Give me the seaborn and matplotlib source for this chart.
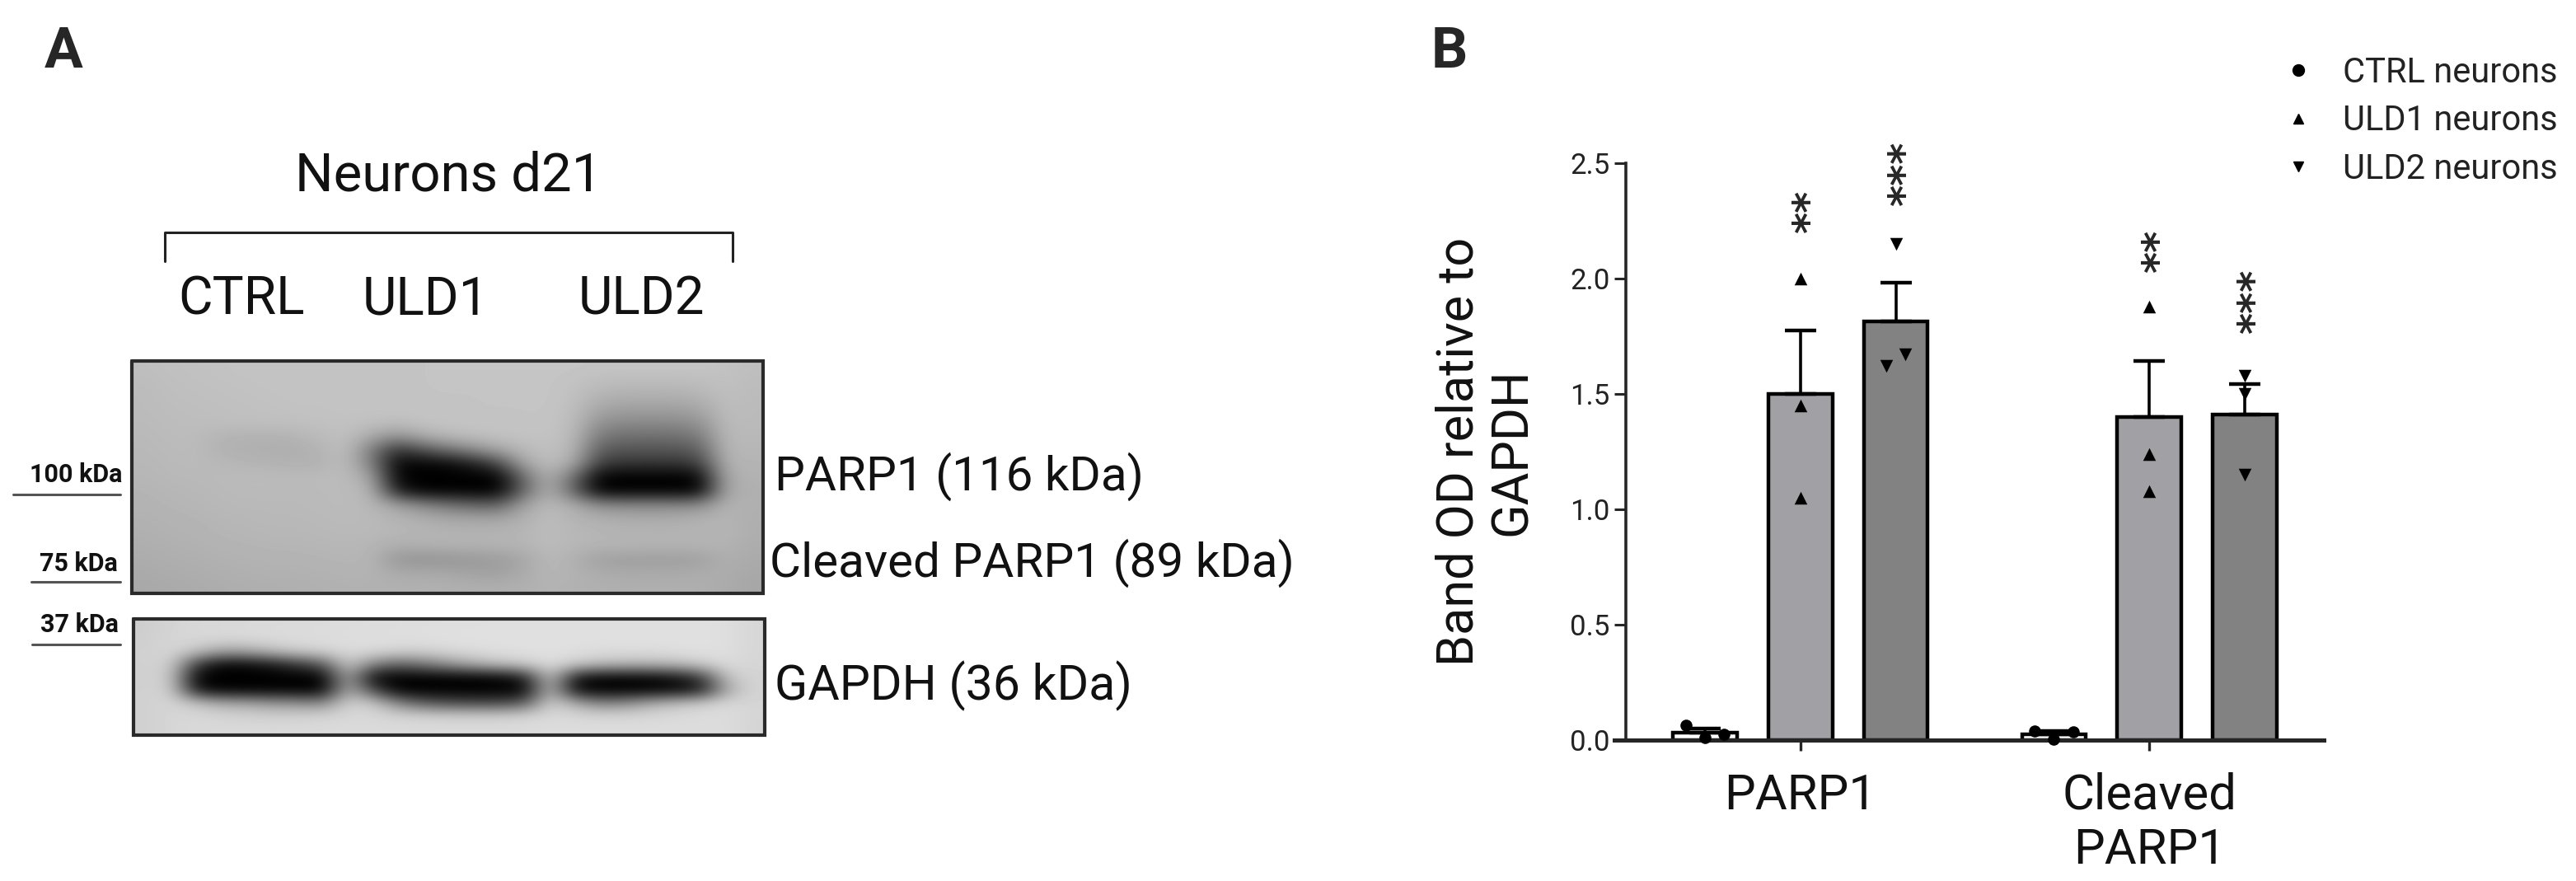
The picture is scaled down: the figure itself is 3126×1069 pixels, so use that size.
import numpy as np
import pandas as pd
import matplotlib
matplotlib.use("Agg")
import matplotlib.pyplot as plt
from matplotlib.lines import Line2D
import seaborn as sns

W, H = 3126, 1069

proteins = ["PARP1", "Cleaved\nPARP1"]
lines = ["CTRL", "ULD1", "ULD2"]
legend_labels = ["CTRL neurons", "ULD1 neurons", "ULD2 neurons"]
yticks = [0.0, 0.5, 1.0, 1.5, 2.0, 2.5]

# three replicates per bar
ctrl_parp = [0.065, 0.01, 0.025]
uld1_parp = [2.00, 1.45, 1.05]
uld2_parp = [2.15, 1.67, 1.62]
ctrl_cleaved = [0.04, 0.005, 0.035]
uld1_cleaved = [1.88, 1.24, 1.08]
uld2_cleaved = [1.58, 1.50, 1.15]

stars = ["**", "***", "**", "***"]
star_centres = [2.29, 2.455, 2.118, 1.90]

# grey levels of the two blots on a coarse grid
top_blot = [
    [190,192,193,194,195,196,196,196,196,196,196,196,197,197,197,197,197,197,196,196,196,196,196,194,190],
    [188,191,192,193,194,195,196,196,196,196,196,196,197,197,197,197,197,194,189,188,188,188,189,193,188],
    [187,190,191,192,193,194,195,195,196,196,196,196,196,196,197,197,197,192,180,176,176,176,180,191,187],
    [187,189,190,191,192,193,194,194,195,195,195,196,196,196,196,196,197,190,166,160,160,160,166,189,186],
    [186,188,189,190,191,191,192,193,194,192,190,194,196,196,196,196,196,188,146,138,138,138,146,187,186],
    [185,187,188,180,178,178,180,186,192,170,146,172,184,190,193,194,195,186,122,112,112,112,122,185,184],
    [184,186,187,178,176,174,174,180,191,125,50,82,112,138,165,185,193,182,95,85,85,85,95,183,182],
    [183,185,186,184,181,179,177,178,189,130,6,4,8,30,70,165,189,170,62,52,52,52,62,178,180],
    [182,184,185,186,187,187,186,187,188,165,4,0,0,0,0,105,182,110,3,0,0,0,5,170,178],
    [180,182,183,185,186,186,186,186,187,182,30,0,0,0,0,100,180,100,0,0,0,0,2,168,176],
    [179,181,182,184,185,185,185,186,187,184,160,135,115,100,95,160,187,172,140,135,135,135,140,178,176],
    [177,179,180,182,183,184,184,185,186,185,180,174,168,165,165,176,189,180,176,172,172,172,176,181,174],
    [176,178,179,181,182,183,183,184,185,185,183,181,179,179,179,181,189,183,181,179,179,179,181,181,174],
    [174,176,177,179,180,181,181,182,183,181,174,177,179,179,179,181,187,183,181,181,179,179,179,179,172],
    [172,174,175,177,178,179,179,180,181,181,150,146,148,152,156,165,185,176,160,158,158,158,160,175,170],
    [170,172,173,175,176,177,177,178,179,179,170,170,168,162,160,170,183,178,172,170,170,170,172,173,168],
    [168,170,171,173,174,175,175,176,177,177,177,177,176,175,175,176,179,177,176,175,175,175,175,171,166],
]
bottom_blot = [
    [205,212,215,216,217,218,218,219,220,220,221,222,222,223,223,224,224,224,224,224,224,224,224,222,214],
    [206,214,216,217,218,219,220,220,221,222,222,223,224,224,224,224,224,224,224,224,224,224,224,222,214],
    [208,214,195,165,168,190,205,212,218,218,212,210,216,220,222,224,224,222,220,220,220,222,224,222,214],
    [208,210,60,5,10,25,55,90,205,130,100,120,150,175,195,205,220,205,190,185,185,190,205,220,213],
    [208,205,0,0,0,0,0,0,175,5,0,0,0,0,5,30,205,25,5,5,8,20,60,195,212],
    [208,210,20,0,0,0,0,0,180,70,0,0,0,0,0,0,195,8,0,0,0,5,25,170,212],
    [208,214,195,170,165,150,145,135,208,200,130,90,75,70,70,90,208,170,130,140,170,190,205,216,213],
    [208,214,216,212,210,208,210,212,216,216,212,210,208,208,208,212,218,216,214,214,216,218,220,220,213],
    [208,214,216,217,217,217,217,218,218,218,218,218,218,218,218,219,220,220,220,220,220,220,220,220,212],
]

sns.set_style("ticks")
plt.rcParams["font.family"] = ["Roboto", "DejaVu Sans"]
plt.rcParams["axes.linewidth"] = 3.0

df = pd.DataFrame({
    "protein": np.repeat(proteins, 9),
    "line": np.tile(np.repeat(lines, 3), 2),
    "value": ctrl_parp + uld1_parp + uld2_parp + ctrl_cleaved + uld1_cleaved + uld2_cleaved,
})

fig = plt.figure(figsize=(W / 100, H / 100), dpi=100, facecolor="white")

# panel A is laid out in pixel coordinates
page = fig.add_axes([0, 0, 1, 1])
page.set_xlim(0, W)
page.set_ylim(H, 0)
page.axis("off")

for grid, box in [(top_blot, (160, 926, 720, 438)), (bottom_blot, (162, 928, 892, 751))]:
    page.imshow(np.array(grid), cmap="gray", vmin=0, vmax=255, aspect="auto",
                interpolation="bicubic", extent=box)
    x0, x1, y1, y0 = box
    page.plot([x0, x1, x1, x0, x0], [y0, y0, y1, y1, y0], color="#2a2a2a", lw=3.0,
              solid_joinstyle="miter")
page.set_xlim(0, W)
page.set_ylim(H, 0)

page.plot([200, 200, 889, 889], [317, 282, 282, 317], color="#222222", lw=2.2)

page.text(77, 64, "A", fontsize=50, fontweight="bold", ha="center", va="center")
page.text(544, 213, "Neurons d21", fontsize=47, ha="center", va="center", color="#111111")
for label, xc in zip(lines, [293, 516, 778]):
    page.text(xc, 364, label, fontsize=46, ha="center", va="center", color="#111111")
for label, xl, yc, fs in [("PARP1 (116 kDa)", 940, 578, 42),
                          ("Cleaved PARP1 (89 kDa)", 934, 683, 42),
                          ("GAPDH (36 kDa)", 940, 832, 42.5)]:
    page.text(xl, yc, label, fontsize=fs, ha="left", va="center", color="#111111")
for label, xr, yc, lx0, ly in [("100 kDa", 148, 576, 16, 600),
                               ("75 kDa", 143, 684, 38, 706),
                               ("37 kDa", 144, 758, 39, 782)]:
    page.text(xr, yc, label, fontsize=22, fontweight="bold", ha="right", va="center", color="#111111")
    page.plot([lx0, 146], [ly, ly], color="#555555", lw=2.2)

page.text(1759, 64, "B", fontsize=50, fontweight="bold", ha="center", va="center")

# panel B
ax = fig.add_axes([1973 / W, 1 - 898 / H, (2820 - 1973) / W, (898 - 198) / H])
ax.patch.set_alpha(0)
sns.barplot(data=df, x="protein", y="value", hue="line", order=proteins, hue_order=lines,
            errorbar=None, palette=["white", "#a1a1a5", "#828282"], saturation=1,
            width=0.82, gap=0.33, edgecolor="black", linewidth=3.2, legend=False, ax=ax)

markers = ["o", "^", "v"]
spread = [[-0.055, 0.0, 0.055], [0.0, 0.0, 0.0], [0.0, 0.0, 0.0]]
spread_parp_uld2 = [0.0, 0.028, -0.028]
stats = df.groupby(["line", "protein"], sort=False)["value"]

star_x = []
for i, (line, container) in enumerate(zip(lines, ax.containers)):
    for j, (protein, bar) in enumerate(zip(proteins, container)):
        xc = bar.get_x() + bar.get_width() / 2
        vals = df[(df["line"] == line) & (df["protein"] == protein)]["value"].to_numpy()
        sem = stats.sem()[(line, protein)]
        ax.errorbar(xc, vals.mean(), yerr=[[0], [sem]], color="black", elinewidth=2.6,
                    capsize=13.5, capthick=3.2, zorder=3, clip_on=False)
        offsets = spread_parp_uld2 if (i == 2 and j == 0) else spread[i]
        points = pd.DataFrame({"x": xc + np.array(offsets), "y": vals})
        sns.scatterplot(data=points, x="x", y="y", marker=markers[i], color="black",
                        s=125 if i else 110, linewidth=0, zorder=5, clip_on=False, ax=ax)
        if i:
            star_x.append(xc)

star_x = [star_x[0], star_x[2], star_x[1], star_x[3]]
for xs, label, yc in zip(star_x, stars, star_centres):
    ax.text(xs + 0.03, yc, label, rotation=90, fontsize=36, family="DejaVu Sans", fontweight="bold",
            ha="center", va="center", rotation_mode="anchor", clip_on=False)

ax.set_xlim(-0.5, 1.5)
ax.set_ylim(0, 2.5)
ax.set_yticks(yticks)
ax.set_yticklabels([f"{v:.1f}" for v in yticks], color="#222222")
ax.tick_params(axis="y", length=10, width=2.2, labelsize=25, pad=4)
ax.tick_params(axis="x", length=9, width=2.4, labelsize=43, pad=19, labelcolor="#111111")
for tick in ax.get_xticklabels():
    tick.set_linespacing(1.15)
ax.spines["bottom"].set_linewidth(3.6)
ax.spines["left"].set_linewidth(2.6)
ax.spines["bottom"].set_bounds(-0.533, 1.5)
ax.set_xlabel("")
ax.set_ylabel("Band OD relative to\nGAPDH", fontsize=44, labelpad=30, color="#111111", linespacing=1.12)
sns.despine(ax=ax)
ax.spines["bottom"].set_position(("outward", 0))

handles = [Line2D([], [], linestyle="none", marker=m, color="black", markersize=s)
           for m, s in zip(markers, [10, 9, 9])]
fig.legend(handles, legend_labels, loc="upper left", bbox_to_anchor=(2776 / W, 1 - 68 / H),
           frameon=False, fontsize=30, labelspacing=0.42, handletextpad=1.0,
           borderpad=0, borderaxespad=0, handlelength=0.6, labelcolor="#222222")

fig.savefig("out.png", dpi=100, facecolor="white")
